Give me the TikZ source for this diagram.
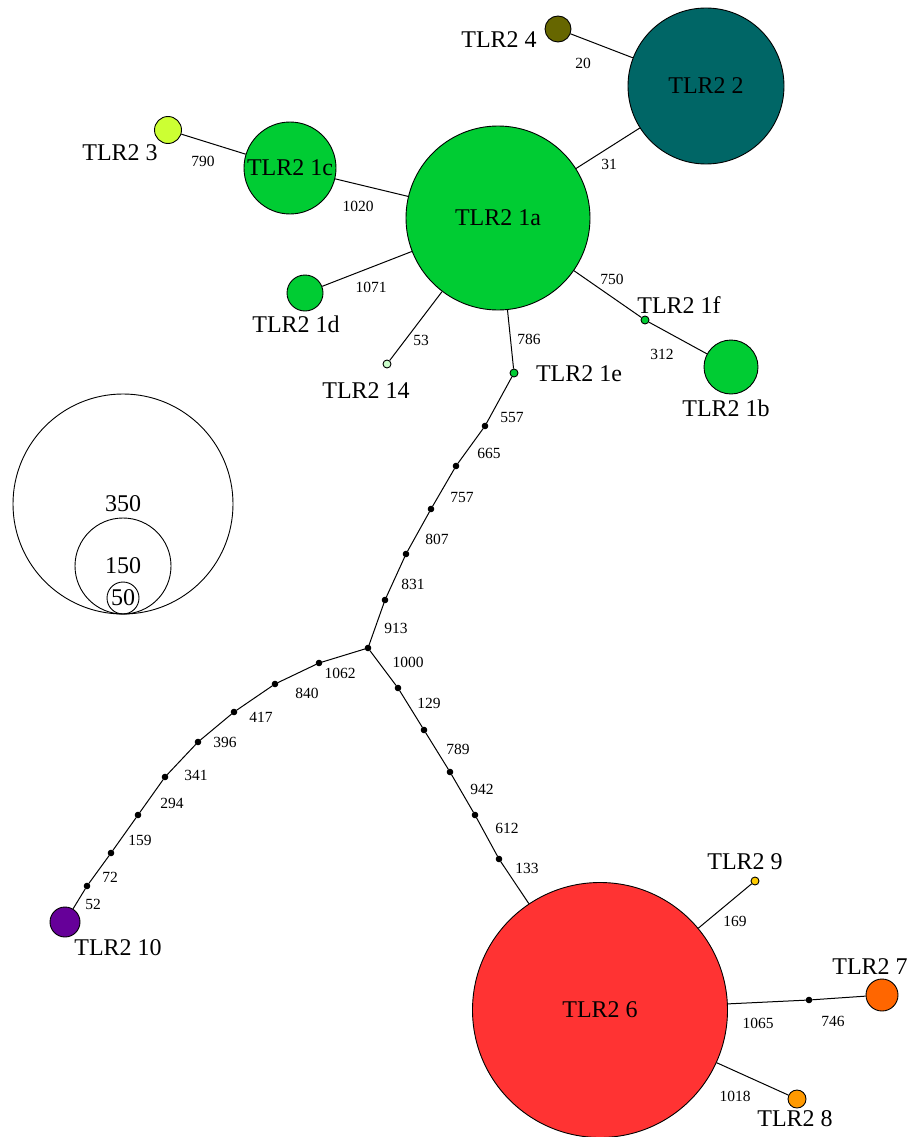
\documentclass[tikz,border=0pt]{standalone}
\usepackage{fontspec}
\setmainfont{Liberation Serif}
\usepackage{tikz}

\definecolor{hapgreen}{RGB}{0,204,51}
\definecolor{hapteal}{RGB}{0,102,102}
\definecolor{hapolive}{RGB}{102,102,0}
\definecolor{haplime}{RGB}{204,255,51}
\definecolor{happale}{RGB}{204,255,204}
\definecolor{happurple}{RGB}{102,0,153}
\definecolor{hapred}{RGB}{255,51,51}
\definecolor{hapgold}{RGB}{255,204,0}
\definecolor{haporange}{RGB}{255,102,0}
\definecolor{hapamber}{RGB}{255,153,0}

\tikzset{
	hap/.style={shape=circle, draw, line width=0.9pt, inner sep=0pt, minimum size=#1},
	mv/.style={shape=circle, draw, fill=black, inner sep=0pt, minimum size=5.5pt},
	lab/.style={font=\fontsize{24}{28}\selectfont},
	num/.style={font=\fontsize{15.5}{18}\selectfont, inner sep=0pt}
}

\begin{document}
\begin{tikzpicture}[x=1pt, y=-1pt, line width=1pt]
	\useasboundingbox (0,0) rectangle (907,1137);

	\node[hap=184pt, fill=hapgreen, lab] (1a) at (498,218) {TLR2 1a};
	\node[hap=156pt, fill=hapteal, lab] (2) at (706,86) {TLR2 2};
	\node[hap=26pt, fill=hapolive] (4) at (558,29) {};
	\node[hap=92pt, fill=hapgreen, lab] (1c) at (290,168) {TLR2 1c};
	\node[hap=27pt, fill=haplime] (3) at (168,130) {};
	\node[hap=36pt, fill=hapgreen] (1d) at (305,293) {};
	\node[hap=8pt, fill=happale] (14) at (387,364) {};
	\node[hap=8pt, fill=hapgreen] (1e) at (514,373) {};
	\node[hap=8pt, fill=hapgreen] (1f) at (645,320) {};
	\node[hap=54pt, fill=hapgreen] (1b) at (731,367) {};
	\node[hap=30pt, fill=happurple] (10) at (65,922) {};
	\node[hap=255pt, fill=hapred, lab] (6) at (600,1010) {TLR2 6};
	\node[hap=8pt, fill=hapgold] (9) at (755,881) {};
	\node[hap=32pt, fill=haporange] (7) at (882,995) {};
	\node[hap=18pt, fill=hapamber] (8) at (797,1099) {};

	\node[mv] (u1) at (485,426) {};
	\node[mv] (u2) at (456,466) {};
	\node[mv] (u3) at (431,509) {};
	\node[mv] (u4) at (406,554) {};
	\node[mv] (u5) at (385,600) {};
	\node[mv] (hub) at (368,648) {};
	\node[mv] (l1) at (319,663) {};
	\node[mv] (l2) at (275,684) {};
	\node[mv] (l3) at (234,712) {};
	\node[mv] (l4) at (198,742) {};
	\node[mv] (l5) at (165,777) {};
	\node[mv] (l6) at (138,815) {};
	\node[mv] (l7) at (111,853) {};
	\node[mv] (l8) at (87,886) {};
	\node[mv] (r1) at (398,688) {};
	\node[mv] (r2) at (424,730) {};
	\node[mv] (r3) at (450,772) {};
	\node[mv] (r4) at (475,815) {};
	\node[mv] (r5) at (499,859) {};
	\node[mv] (m1) at (809,1000) {};

	\path [-]
	(1a) edge (2)
	     edge (1c)
	     edge (1d)
	     edge (14)
	     edge (1e)
	     edge (1f)
	(2) edge (4)
	(1c) edge (3)
	(1f) edge (1b)
	(1e) edge (u1)
	(u1) edge (u2)
	(u2) edge (u3)
	(u3) edge (u4)
	(u4) edge (u5)
	(u5) edge (hub)
	(hub) edge (l1)
	      edge (r1)
	(l1) edge (l2)
	(l2) edge (l3)
	(l3) edge (l4)
	(l4) edge (l5)
	(l5) edge (l6)
	(l6) edge (l7)
	(l7) edge (l8)
	(l8) edge (10)
	(r1) edge (r2)
	(r2) edge (r3)
	(r3) edge (r4)
	(r4) edge (r5)
	(r5) edge (6)
	(6) edge (9)
	    edge (m1)
	    edge (8)
	(m1) edge (7);

	\node[lab] (t4) at (499,40) {TLR2 4};
	\node[lab] (t3) at (120,153) {TLR2 3};
	\node[lab] (t1d) at (296,324) {TLR2 1d};
	\node[lab] (t14) at (366,391) {TLR2 14};
	\node[lab] (t1e) at (579,374) {TLR2 1e};
	\node[lab] (t1f) at (679,305) {TLR2 1f};
	\node[lab] (t1b) at (726,408) {TLR2 1b};
	\node[lab] (t10) at (118,948) {TLR2 10};
	\node[lab] (t9) at (745,862) {TLR2 9};
	\node[lab] (t7) at (870,967) {TLR2 7};
	\node[lab] (t8) at (795,1119) {TLR2 8};

	\node[num] (n20) at (583,63) {20};
	\node[num] (n31) at (609,164) {31};
	\node[num] (n790) at (203,161) {790};
	\node[num] (n1020) at (358,206) {1020};
	\node[num] (n1071) at (371,287) {1071};
	\node[num] (n53) at (421,340) {53};
	\node[num] (n786) at (529,339) {786};
	\node[num] (n750) at (612,279) {750};
	\node[num] (n312) at (662,354) {312};
	\node[num] (n557) at (512,417) {557};
	\node[num] (n665) at (489,453) {665};
	\node[num] (n757) at (462,497) {757};
	\node[num] (n807) at (437,539) {807};
	\node[num] (n831) at (413,584) {831};
	\node[num] (n913) at (396,628) {913};
	\node[num] (n1062) at (340,673) {1062};
	\node[num] (n840) at (307,693) {840};
	\node[num] (n417) at (261,717) {417};
	\node[num] (n396) at (225,742) {396};
	\node[num] (n341) at (196,775) {341};
	\node[num] (n294) at (172,803) {294};
	\node[num] (n159) at (140,840) {159};
	\node[num] (n72) at (110,877) {72};
	\node[num] (n52) at (93,904) {52};
	\node[num] (n1000) at (408,662) {1000};
	\node[num] (n129) at (429,703) {129};
	\node[num] (n789) at (458,749) {789};
	\node[num] (n942) at (482,789) {942};
	\node[num] (n612) at (507,828) {612};
	\node[num] (n133) at (527,868) {133};
	\node[num] (n169) at (735,921) {169};
	\node[num] (n1065) at (758,1023) {1065};
	\node[num] (n746) at (833,1021) {746};
	\node[num] (n1018) at (735,1096) {1018};

	\node[hap=220pt, lab] (s350) at (123,504) {350};
	\node[hap=96pt, lab] (s150) at (123,566) {150};
	\node[hap=32pt, lab] (s50) at (123,598) {50};
\end{tikzpicture}
\end{document}
